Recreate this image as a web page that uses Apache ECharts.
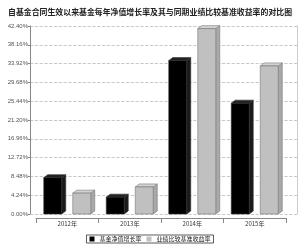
<!DOCTYPE html>
<html>
<head>
<meta charset="utf-8">
<script src="https://cdn.jsdelivr.net/npm/echarts@6/dist/echarts.min.js"></script>
<style>
  html, body {margin: 0; padding: 0; background: #fff;}
  #main {width: 300px; height: 244px;}
</style>
</head>
<body>
<div id="main"></div>
<script>
const years = ['2012年', '2013年', '2014年', '2015年'];
const navGrowth = [8.2, 3.8, 34.6, 25.0];
const benchmark = [4.7, 6.1, 41.8, 33.4];
const yTicks = [0, 4.24, 8.48, 12.72, 16.96, 21.2, 25.44, 29.68, 33.92, 38.16, 42.4];

const chart = echarts.init(document.getElementById('main'));

// draws one bar as a little box: front face, side, top
function box(offset, front, side, top, stroke) {
  return function (params, api) {
    const x = api.coord([api.value(0), api.value(1)]);
    const x0 = api.coord([api.value(0), 0]);
    const w = 18, dx = 4, dy = 3;
    const l = x[0] + offset - w / 2, r = l + w;
    const t = x[1], b = x0[1];
    return {
      type: 'group',
      children: [
        {type: 'polygon', shape: {points: [[r, b], [r + dx, b - dy], [r + dx, t - dy], [r, t]]},
          style: {fill: side, stroke: stroke, lineWidth: 0.6}},
        {type: 'polygon', shape: {points: [[l, t], [l + dx, t - dy], [r + dx, t - dy], [r, t]]},
          style: {fill: top, stroke: stroke, lineWidth: 0.6}},
        {type: 'rect', shape: {x: l, y: t, width: w, height: b - t},
          style: {fill: front, stroke: stroke, lineWidth: 0.6}}
      ]
    };
  };
}

const option = {
  animation: false,
  title: {
    text: '自基金合同生效以来基金每年净值增长率及其与同期业绩比较基准收益率的对比图',
    left: 3, top: 3,
    textStyle: {fontSize: 7.9, fontWeight: 'bold', color: '#222', fontFamily: 'Noto Sans CJK SC'}
  },
  legend: {
    bottom: 1, left: 'center',
    itemWidth: 5, itemHeight: 5, itemGap: 5,
    borderColor: '#333', borderWidth: 0.8, padding: [1, 3], backgroundColor: '#fff',
    textStyle: {fontSize: 6, color: '#222', fontFamily: 'Noto Sans CJK SC'},
    data: [
      {name: '基金净值增长率', icon: 'rect', itemStyle: {color: '#000', borderWidth: 0}},
      {name: '业绩比较基准收益率', icon: 'rect', itemStyle: {color: '#c0c0c0', borderWidth: 0}}
    ]
  },
  grid: [
    {left: 30, right: 3, top: 26, bottom: 30},
    {left: 36, right: 14, top: 26, bottom: 30}
  ],
  xAxis: [
    {gridIndex: 0, type: 'value', min: 0, max: 1, show: false},
    {
      gridIndex: 1, type: 'category', data: years,
      axisLine: {onZero: false, lineStyle: {color: '#888'}},
      offset: 4,
      axisTick: {show: true, lineStyle: {color: '#888'}},
      axisLabel: {fontSize: 6, color: '#333', margin: 3, fontFamily: 'Noto Sans CJK SC'}
    }
  ],
  yAxis: [
    {
      gridIndex: 0, type: 'value', min: 0, max: 42.4, interval: 4.24,
      axisLine: {show: true, lineStyle: {color: '#888'}},
      axisTick: {show: true, length: 2, lineStyle: {color: '#888'}},
      axisLabel: {
        fontSize: 6, color: '#555', margin: 2,
        formatter: v => yTicks.reduce((a, c) => Math.abs(c - v) < Math.abs(a - v) ? c : a).toFixed(2) + '%'
      },
      splitLine: {lineStyle: {color: '#bbb', type: 'dashed', width: 0.8}}
    },
    {gridIndex: 0, type: 'value', min: 0, max: 42.4, position: 'right',
      axisLine: {show: true, lineStyle: {color: '#ccc'}}, axisLabel: {show: false},
      axisTick: {show: false}, splitLine: {show: false}},
    {gridIndex: 1, type: 'value', min: 0, max: 42.4, show: false}
  ],
  series: [
    {
      name: '基金净值增长率', type: 'custom', xAxisIndex: 1, yAxisIndex: 2,
      data: years.map((y, i) => [i, navGrowth[i]]),
      itemStyle: {color: '#000'},
      renderItem: box(-14.5, '#000', '#1a1a1a', '#222', '#333')
    },
    {
      name: '业绩比较基准收益率', type: 'custom', xAxisIndex: 1, yAxisIndex: 2,
      data: years.map((y, i) => [i, benchmark[i]]),
      itemStyle: {color: '#c0c0c0'},
      renderItem: box(14.5, '#c0c0c0', '#a9a9a9', '#d2d2d2', '#777')
    }
  ]
};
chart.setOption(option);
</script>
</body>
</html>
